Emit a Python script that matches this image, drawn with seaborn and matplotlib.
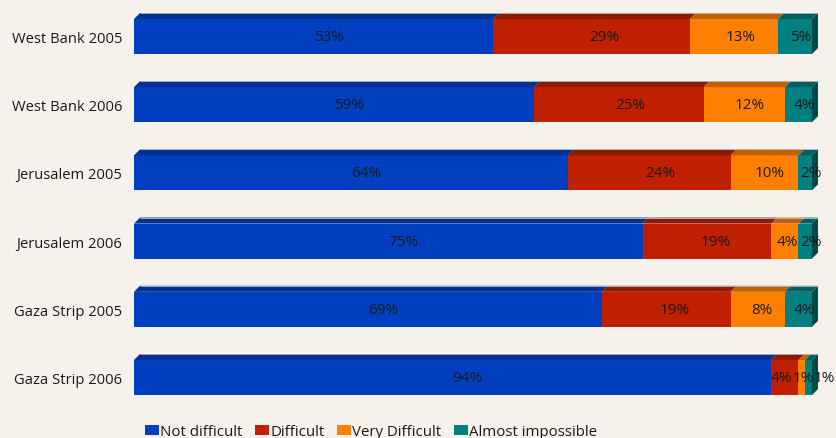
import numpy as np
import pandas as pd
import matplotlib
matplotlib.use("Agg")
import matplotlib.pyplot as plt
import seaborn as sns
from matplotlib.patches import Polygon, Patch

categories = ["West Bank 2005", "West Bank 2006", "Jerusalem 2005",
              "Jerusalem 2006", "Gaza Strip 2005", "Gaza Strip 2006"]
not_difficult = [53, 59, 64, 75, 69, 94]
difficult = [29, 25, 24, 19, 19, 4]
very_difficult = [13, 12, 10, 4, 8, 1]
almost_impossible = [5, 4, 2, 2, 4, 1]
series_names = ["Not difficult", "Difficult", "Very Difficult", "Almost impossible"]

front_colors = ["#0040c0", "#c02000", "#ff8000", "#008080"]
top_colors = ["#003090", "#8e1a00", "#c06000", "#006060"]
side_color = "#004a4a"
bg = "#f6f1eb"
txt = "#1a1a1a"

sns.set_theme(style="white")
plt.rcParams["font.family"] = ["Open Sans", "DejaVu Sans"]

W, H = 836, 439
fig = plt.figure(figsize=(W / 100, H / 100), dpi=100, facecolor=bg)
ax_left, ax_right = 134, 812
ax_top, ax_bot = 3.4, 412.6
ax = fig.add_axes([ax_left / W, (H - ax_bot) / H, (ax_right - ax_left) / W, (ax_bot - ax_top) / H])
ax.set_facecolor(bg)

data = np.array([not_difficult, difficult, very_difficult, almost_impossible], dtype=float)
cum = np.cumsum(data, axis=0)
bar_h = 0.513

# draw cumulative bars, largest first so smaller overlay
for i in range(3, -1, -1):
    df = pd.DataFrame({"cat": categories, "val": cum[i]})
    sns.barplot(data=df, x="val", y="cat", orient="h", color=front_colors[i],
                saturation=1, width=bar_h, ax=ax, linewidth=0, zorder=2)

ax.set_xlim(0, 100)
ax.set_ylim(len(categories) - 0.5, -0.5)

# depth in data units (6 px)
px_per_x = (ax_right - ax_left) / 100.0
px_per_y = (ax_bot - ax_top) / len(categories)
dx = 6 / px_per_x
dy = 6 / px_per_y

for r in range(len(categories)):
    ytop = r - bar_h / 2
    ybot = r + bar_h / 2
    for i in range(4):
        x0 = cum[i][r] - data[i][r]
        x1 = cum[i][r]
        poly = Polygon([(x0, ytop), (x1, ytop), (x1 + dx, ytop - dy), (x0 + dx, ytop - dy)],
                       closed=True, facecolor=top_colors[i], edgecolor="none",
                       zorder=3, clip_on=False)
        ax.add_patch(poly)
    xe = cum[3][r]
    ax.add_patch(Polygon([(xe, ytop), (xe + dx, ytop - dy), (xe + dx, ybot - dy), (xe, ybot)],
                         closed=True, facecolor=side_color, edgecolor="none",
                         zorder=3, clip_on=False))
    ax.plot([dx, xe + dx], [ytop - dy, ytop - dy], color="#b8bccc", lw=0.6,
            zorder=4, clip_on=False, solid_capstyle="butt")

# labels
fig.canvas.draw()
renderer = fig.canvas.get_renderer()
for r in range(len(categories)):
    texts = []
    prev_right = None
    for i in range(4):
        seg_px = data[i][r] * px_per_x
        off_px = 6 if i == 3 else min(seg_px * 0.06 + 1, 15)
        center = cum[i][r] - data[i][r] / 2 + off_px / px_per_x
        t = ax.text(center, r, f"{int(data[i][r])}%", ha="center", va="center",
                    fontsize=11, color=txt, zorder=5, clip_on=False)
        bb = t.get_window_extent(renderer=renderer)
        if prev_right is not None and bb.x0 < prev_right:
            t.set_x(center + (prev_right - bb.x0) / px_per_x)
            bb = t.get_window_extent(renderer=renderer)
        prev_right = bb.x1
        texts.append(t)
    # backward pass: keep labels inside the figure
    limit = W - 1
    for t in reversed(texts):
        bb = t.get_window_extent(renderer=renderer)
        if bb.x1 > limit:
            t.set_x(t.get_position()[0] - (bb.x1 - limit) / px_per_x)
            bb = t.get_window_extent(renderer=renderer)
        limit = bb.x0

ax.set_xlabel("")
ax.set_ylabel("")
ax.set_xticks([])
ax.tick_params(axis="y", length=0, pad=8.5, labelsize=10.6, labelcolor=txt)
for s in ax.spines.values():
    s.set_visible(False)

handles = [Patch(facecolor=c, edgecolor="none") for c in front_colors]
fig.legend(handles, series_names, loc="center", bbox_to_anchor=(371 / W, 6 / H),
           ncol=4, frameon=False, fontsize=10.8, handlelength=0.95, handleheight=0.6,
           handletextpad=0.1, columnspacing=0.8, labelcolor=txt, borderpad=0)

fig.savefig("out.png", dpi=100, facecolor=bg)
